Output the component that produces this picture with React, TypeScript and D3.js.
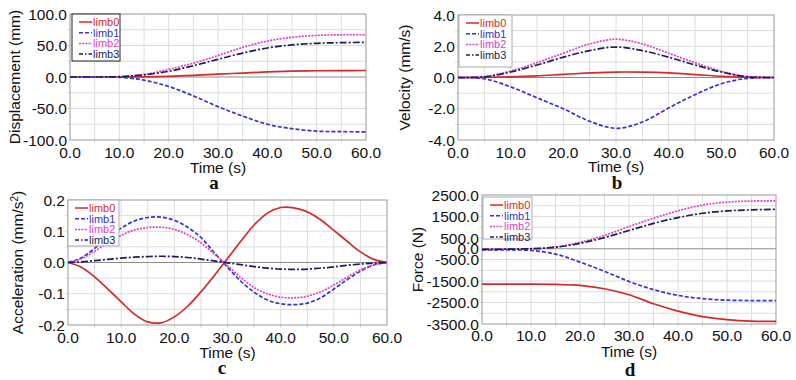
import React from "react";
import * as d3 from "d3";

const SERIES = ["limb0", "limb1", "limb2", "limb3"];
const COLORS = ["#d42a2a", "#3535c8", "#e040cc", "#1c1c58"];
const DASHES = ["none", "4,2", "2,1.2", "7,2,2,2"];
const LEGEND_DASHES = ["none", "4,2", "2,1.2", "4,2,1.5,2"];

const T5 = [0, 5, 10, 15, 20, 25, 30, 35, 40, 45, 50, 55, 60];
const T25 = [0, 2.5, 5, 7.5, 10, 12.5, 15, 17.5, 20, 22.5, 25, 27.5, 30, 32.5, 35, 37.5, 40, 42.5, 45, 47.5, 50, 52.5, 55, 57.5, 60];

// a: displacement (mm)
const dispLimb0 = [0, 0, 0, 0.3, 1, 2.5, 4.5, 6.3, 8, 9.2, 9.9, 10.2, 10.3];
const dispLimb1 = [0, 0, -0.5, -5, -15, -30, -47, -62, -75, -82, -86, -86.8, -87];
const dispLimb2 = [0, 0, 0.5, 4, 12, 22, 34, 47, 57, 63, 66, 67, 67];
const dispLimb3 = [0, 0, 0.5, 3.5, 9, 18, 28, 38, 46, 51, 53.5, 54.5, 55];

// b: velocity (mm/s)
const velLimb0 = [0, 0.01, 0.04, 0.1, 0.2, 0.29, 0.35, 0.34, 0.29, 0.19, 0.08, 0.02, 0];
const velLimb1 = [0, -0.08, -0.6, -1.3, -2.0, -2.8, -3.25, -2.85, -1.95, -1.1, -0.4, -0.05, 0];
const velLimb2 = [0, 0.05, 0.42, 0.95, 1.55, 2.15, 2.45, 2.15, 1.55, 0.95, 0.4, 0.05, 0];
const velLimb3 = [0, 0.04, 0.35, 0.8, 1.3, 1.72, 1.95, 1.72, 1.3, 0.8, 0.35, 0.04, 0];

// c: acceleration (mm/s^2)
const accLimb0 = [0, -0.015, -0.046, -0.085, -0.126, -0.165, -0.19, -0.193, -0.174, -0.14, -0.094, -0.042, 0.013, 0.068, 0.12, 0.158, 0.176, 0.175, 0.162, 0.137, 0.103, 0.068, 0.034, 0.01, 0];
const accLimb1 = [0, 0.015, 0.045, 0.08, 0.11, 0.133, 0.144, 0.145, 0.135, 0.113, 0.08, 0.032, -0.015, -0.06, -0.095, -0.12, -0.132, -0.135, -0.13, -0.113, -0.085, -0.055, -0.028, -0.008, 0];
const accLimb2 = [0, 0.012, 0.036, 0.063, 0.087, 0.104, 0.112, 0.113, 0.106, 0.089, 0.063, 0.027, -0.01, -0.048, -0.08, -0.1, -0.111, -0.113, -0.108, -0.094, -0.072, -0.047, -0.024, -0.007, 0];
const accLimb3 = [0, 0.002, 0.006, 0.01, 0.014, 0.017, 0.019, 0.02, 0.019, 0.016, 0.011, 0.005, -0.001, -0.007, -0.013, -0.018, -0.021, -0.022, -0.021, -0.018, -0.014, -0.009, -0.005, -0.002, 0];

// d: force (N)
const forceLimb0 = [-1645, -1645, -1648, -1660, -1700, -1860, -2140, -2560, -2900, -3160, -3300, -3370, -3380];
const forceLimb1 = [-50, -50, -80, -250, -620, -1050, -1520, -1900, -2170, -2320, -2390, -2410, -2415];
const forceLimb2 = [-30, -20, 0, 80, 300, 620, 1030, 1420, 1760, 2030, 2170, 2220, 2230];
const forceLimb3 = [-30, -20, 0, 70, 250, 520, 850, 1180, 1450, 1650, 1760, 1810, 1830];

const TIME_TICKS = [0, 10, 20, 30, 40, 50, 60];
const TIME_GRID = [5, 10, 15, 20, 25, 30, 35, 40, 45, 50, 55];

const FONT = "'Liberation Sans', Arial, sans-serif";

type PanelProps = {
  left: number; right: number; top: number; bottom: number;
  times: number[];
  series: number[][];
  yDomain: [number, number];
  yTicks: number[];
  yTickLabels: string[];
  yGrid: number[];
  yTitle: React.ReactNode;
  yTitleX: number;
  tickBase: number; titleBase: number;
  letter: string; letterX: number; letterBase: number;
  legend: { x: number; y: number; w: number; h: number; border: string };
};

function Panel(p: PanelProps) {
  const x = d3.scaleLinear().domain([0, 60]).range([p.left, p.right]);
  const y = d3.scaleLinear().domain(p.yDomain).range([p.bottom, p.top]);
  const line = d3.line<[number, number]>().x(d => x(d[0])).y(d => y(d[1])).curve(d3.curveCatmullRom.alpha(0.5));
  const cx = (p.left + p.right) / 2;
  const cy = (p.top + p.bottom) / 2;
  return (
    <g>
      <rect x={p.left} y={p.top} width={p.right - p.left} height={p.bottom - p.top} fill="#fff" />
      {TIME_GRID.map(t => (
        <line key={"vg" + t} x1={x(t)} x2={x(t)} y1={p.top} y2={p.bottom + 3} stroke="#dcdcdc" strokeWidth={1} />
      ))}
      {p.yGrid.map(v => (
        <line key={"hg" + v} x1={p.left - 3} x2={p.right} y1={y(v)} y2={y(v)} stroke="#dcdcdc" strokeWidth={1} />
      ))}
      <line x1={p.left} x2={p.right} y1={y(0)} y2={y(0)} stroke="#8c8c8c" strokeWidth={1} />
      <rect x={p.left} y={p.top} width={p.right - p.left} height={p.bottom - p.top} fill="none" stroke="#9a9a9a" strokeWidth={1} />
      {p.series.map((vals, i) => (
        <path key={"s" + i} d={line(p.times.map((t, j) => [t, vals[j]] as [number, number])) || ""}
          fill="none" stroke={COLORS[i]} strokeWidth={1.7} strokeDasharray={DASHES[i]} />
      ))}
      {p.yTicks.map((v, i) => (
        <text key={"yt" + i} x={p.left - 3} y={y(v) + 5.5} textAnchor="end" fontFamily={FONT} fontSize={15.5} fill="#111">{p.yTickLabels[i]}</text>
      ))}
      {TIME_TICKS.map(t => (
        <text key={"xt" + t} x={x(t)} y={p.tickBase} textAnchor="middle" fontFamily={FONT} fontSize={15.5} fill="#111">{t.toFixed(1)}</text>
      ))}
      <text x={cx} y={p.titleBase} textAnchor="middle" fontFamily={FONT} fontSize={15.5} fill="#111">Time (s)</text>
      <text transform={`translate(${p.yTitleX},${cy}) rotate(-90)`} textAnchor="middle" fontFamily={FONT} fontSize={15.5} fill="#111">{p.yTitle}</text>
      <text x={p.letterX} y={p.letterBase} textAnchor="middle" fontFamily="'Liberation Serif', 'Times New Roman', serif" fontWeight="bold" fontSize={19} fill="#111">{p.letter}</text>
      <g>
        <rect x={p.legend.x} y={p.legend.y} width={p.legend.w} height={p.legend.h} fill="#fff" stroke={p.legend.border} strokeWidth={1} />
        {SERIES.map((s, i) => {
          const ly = p.legend.y + 8 + i * 10.7;
          return (
            <g key={"lg" + i}>
              <line x1={p.legend.x + 7} x2={p.legend.x + 20} y1={ly} y2={ly} stroke={COLORS[i]} strokeWidth={1.5} strokeDasharray={LEGEND_DASHES[i]} />
              <text x={p.legend.x + 21} y={ly + 4} fontFamily={FONT} fontSize={11} fill={COLORS[i]}>{s}</text>
            </g>
          );
        })}
      </g>
    </g>
  );
}

export default function App() {
  return (
    <svg width={796} height={380} style={{ position: "absolute", left: 0, top: 0, background: "#fff" }}>
      <rect width={796} height={380} fill="#fff" />
      <Panel left={70} right={366} top={14} bottom={140} times={T5}
        series={[dispLimb0, dispLimb1, dispLimb2, dispLimb3]}
        yDomain={[-100, 100]} yTicks={[100, 50, 0, -50, -100]} yTickLabels={["100.0", "50.0", "0.0", "-50.0", "-100.0"]}
        yGrid={[75, 50, 25, -25, -50, -75]} yTitle="Displacement (mm)" yTitleX={20}
        tickBase={158} titleBase={173} letter="a" letterX={214} letterBase={189}
        legend={{ x: 72, y: 14, w: 48, h: 47, border: "#222" }} />
      <Panel left={458} right={774} top={15} bottom={140} times={T5}
        series={[velLimb0, velLimb1, velLimb2, velLimb3]}
        yDomain={[-4, 4]} yTicks={[4, 2, 0, -2, -4]} yTickLabels={["4.0", "2.0", "0.0", "-2.0", "-4.0"]}
        yGrid={[3, 2, 1, -1, -2, -3]} yTitle="Velocity (mm/s)" yTitleX={410}
        tickBase={158} titleBase={172} letter="b" letterX={617} letterBase={189}
        legend={{ x: 459, y: 15, w: 53, h: 52, border: "#aaa" }} />
      <Panel left={68} right={387} top={200} bottom={325} times={T25}
        series={[accLimb0, accLimb1, accLimb2, accLimb3]}
        yDomain={[-0.2, 0.2]} yTicks={[0.2, 0.1, 0, -0.1, -0.2]} yTickLabels={["0.2", "0.1", "0.0", "-0.1", "-0.2"]}
        yGrid={[0.15, 0.1, 0.05, -0.05, -0.1, -0.15]}
        yTitle={<>Acceleration (mm/s<tspan dy={-5} fontSize={10}>2</tspan><tspan dy={5}>)</tspan></>} yTitleX={23}
        tickBase={343} titleBase={358} letter="c" letterX={222} letterBase={374}
        legend={{ x: 68, y: 200, w: 51, h: 46, border: "#aaa" }} />
      <Panel left={482} right={776} top={195} bottom={324} times={T5}
        series={[forceLimb0, forceLimb1, forceLimb2, forceLimb3]}
        yDomain={[-3500, 2500]} yTicks={[2500, 1500, 500, 0, -500, -1500, -2500, -3500]}
        yTickLabels={["2500.0", "1500.0", "500.0", "0.0", "-500.0", "-1500.0", "-2500.0", "-3500.0"]}
        yGrid={[2000, 1500, 1000, 500, -500, -1000, -1500, -2000, -2500, -3000]} yTitle="Force (N)" yTitleX={423}
        tickBase={341} titleBase={357} letter="d" letterX={630} letterBase={376}
        legend={{ x: 483, y: 197, w: 49, h: 42, border: "#aaa" }} />
    </svg>
  );
}
